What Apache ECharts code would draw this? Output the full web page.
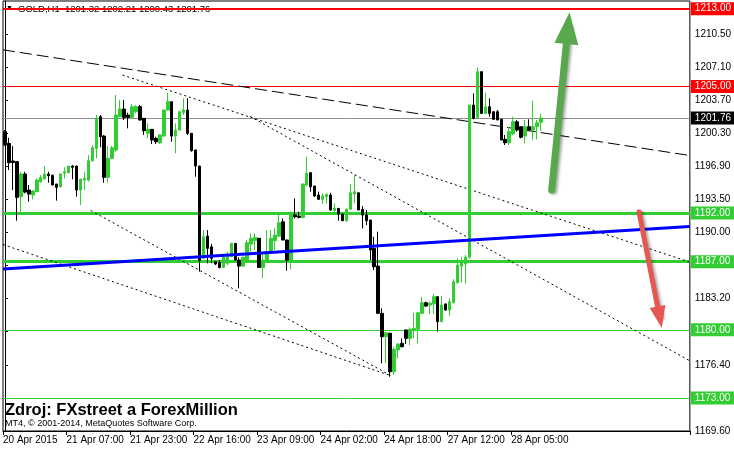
<!DOCTYPE html>
<html>
<head>
<meta charset="utf-8">
<script src="https://cdn.jsdelivr.net/npm/echarts@6/dist/echarts.min.js"></script>
<style>
html,body{margin:0;padding:0;background:#fff;}
#chart{width:734px;height:451px;}
</style>
</head>
<body>
<div id="chart"></div>
<script>
// ---- data (GOLD H1) ----
const opens = [1200.36,1199.16,1197.35,1197.28,1193.68,1196.01,1194.36,1193.85,1194.19,1195.22,1195.49,1196.01,1195.88,1194.98,1194.70,1196.08,1196.15,1196.83,1196.83,1194.36,1195.39,1195.39,1197.38,1198.65,1201.90,1199.91,1195.67,1197.62,1198.48,1201.90,1202.69,1202.07,1201.83,1202.41,1202.93,1201.73,1200.19,1200.60,1199.67,1199.22,1199.91,1202.59,1203.44,1199.91,1200.53,1202.31,1202.59,1200.19,1198.48,1196.83,1187.34,1189.63,1188.53,1186.99,1186.89,1186.41,1186.82,1187.51,1188.88,1187.17,1186.55,1187.17,1188.81,1189.16,1189.40,1186.41,1187.10,1188.03,1189.16,1189.63,1191.10,1189.23,1187.17,1191.79,1191.69,1191.55,1194.88,1196.15,1194.77,1193.85,1193.41,1193.68,1193.85,1192.24,1192.48,1191.90,1191.21,1192.38,1193.95,1194.08,1192.38,1191.79,1191.28,1188.37,1186.55,1181.69,1179.29,1179.64,1175.69,1177.92,1178.61,1179.98,1179.12,1179.98,1180.05,1181.69,1182.78,1182.55,1182.65,1183.40,1180.83,1182.65,1182.03,1182.78,1184.84,1186.55,1186.76,1187.45,1203.10,1201.83,1206.52,1202.24,1202.93,1202.41,1202.41,1201.63,1199.57,1199.22,1200.12,1201.38,1200.87,1199.91,1200.87,1200.53,1200.87,1201.32];
const closes = [1198.99,1197.17,1197.20,1193.61,1196.01,1194.15,1193.95,1194.26,1195.39,1195.67,1196.01,1195.84,1194.88,1194.64,1196.01,1196.25,1196.83,1196.70,1194.36,1195.46,1195.56,1197.38,1198.71,1201.73,1199.84,1195.67,1197.62,1198.71,1202.07,1202.69,1201.83,1201.83,1202.93,1202.93,1201.56,1200.46,1200.60,1199.50,1199.32,1200.02,1202.59,1203.44,1199.91,1200.53,1202.41,1202.59,1200.19,1198.41,1196.83,1187.10,1189.56,1188.37,1187.34,1186.76,1186.41,1187.51,1187.79,1188.88,1187.17,1186.55,1187.45,1188.95,1189.40,1189.51,1186.41,1187.17,1188.03,1189.40,1189.74,1191.00,1189.23,1187.17,1191.79,1191.62,1191.55,1194.98,1196.08,1194.70,1193.75,1193.41,1193.75,1193.92,1192.31,1192.48,1191.90,1191.21,1192.38,1194.08,1194.19,1192.31,1191.79,1191.21,1188.20,1186.48,1181.69,1179.29,1179.70,1175.69,1177.99,1178.54,1178.26,1179.12,1180.05,1180.15,1181.75,1182.78,1182.44,1182.72,1183.40,1180.83,1182.55,1182.03,1182.89,1184.94,1186.65,1186.89,1187.45,1203.10,1201.73,1206.52,1202.24,1202.93,1202.24,1201.63,1201.56,1199.50,1199.22,1200.36,1201.38,1200.53,1199.78,1200.87,1200.53,1200.87,1201.28,1201.76];
const lows = [1198.88,1196.42,1194.36,1191.21,1192.03,1194.02,1193.17,1193.41,1194.19,1195.11,1195.49,1195.11,1194.85,1193.27,1194.64,1195.56,1196.08,1195.46,1193.68,1192.82,1194.36,1195.22,1197.28,1197.62,1198.75,1195.11,1195.11,1197.52,1198.30,1201.83,1201.56,1200.70,1201.73,1202.24,1201.49,1200.02,1199.67,1199.09,1199.09,1199.09,1199.84,1202.55,1199.32,1198.14,1200.46,1202.07,1200.02,1198.30,1195.73,1185.97,1187.30,1186.83,1186.83,1186.65,1186.31,1186.40,1186.65,1187.50,1187.15,1184.26,1186.48,1187.10,1188.03,1188.20,1186.40,1185.29,1186.99,1187.86,1188.20,1189.56,1189.20,1186.07,1186.21,1191.45,1191.45,1191.45,1194.77,1194.19,1193.68,1193.34,1192.93,1193.00,1192.24,1192.13,1191.21,1191.20,1191.10,1192.31,1193.00,1192.30,1190.42,1190.77,1187.17,1186.14,1181.65,1176.55,1176.61,1175.18,1175.36,1177.07,1178.20,1178.54,1178.43,1179.12,1178.61,1181.62,1182.37,1181.62,1181.62,1179.81,1180.80,1181.96,1181.42,1182.72,1184.77,1184.84,1184.77,1187.34,1201.63,1201.73,1202.20,1202.17,1201.90,1201.56,1201.55,1199.50,1198.99,1198.99,1200.02,1200.36,1199.67,1199.16,1200.46,1199.50,1199.57,1200.43];
const highs = [1200.53,1199.74,1198.88,1197.35,1196.25,1196.25,1194.88,1194.36,1195.56,1195.91,1196.83,1196.25,1195.95,1195.00,1196.08,1196.70,1196.85,1196.93,1196.85,1195.56,1196.25,1197.96,1198.99,1202.07,1202.07,1200.02,1198.88,1198.88,1204.13,1203.62,1203.62,1202.31,1203.20,1203.10,1203.10,1201.75,1201.22,1200.62,1199.84,1200.12,1202.60,1204.33,1203.45,1201.22,1202.51,1203.79,1203.79,1200.20,1198.50,1196.85,1190.25,1190.25,1188.81,1187.00,1187.17,1187.58,1188.02,1188.95,1188.90,1187.45,1187.51,1189.23,1189.91,1189.91,1189.40,1187.92,1190.25,1190.25,1190.42,1192.03,1191.45,1189.25,1192.13,1193.51,1192.13,1195.05,1197.79,1196.15,1194.80,1194.19,1194.02,1194.02,1194.08,1192.99,1192.50,1191.97,1192.48,1194.98,1195.91,1194.10,1192.72,1192.31,1191.30,1189.56,1190.08,1182.21,1179.81,1179.70,1178.26,1178.61,1179.12,1180.05,1180.25,1181.75,1181.86,1183.40,1182.89,1182.89,1183.68,1183.47,1183.47,1182.72,1183.23,1185.19,1187.34,1187.51,1187.68,1203.10,1204.30,1206.97,1206.55,1204.36,1203.79,1202.45,1202.59,1201.65,1200.02,1200.87,1201.90,1201.56,1200.90,1201.56,1201.63,1203.54,1201.56,1202.21];

const totalSlots = 173;              // bars + empty shift area on the right
const xTickLabels = ["20 Apr 2015","21 Apr 07:00","21 Apr 23:00","22 Apr 16:00","23 Apr 09:00","24 Apr 02:00","24 Apr 18:00","27 Apr 12:00","28 Apr 05:00"];
const xTickBars = [0,16,32,48,64,80,96,112,128];
const yTickLabels = ["1169.60","1173.00","1176.40","1179.80","1183.20","1186.60","1190.00","1193.50","1196.90","1200.30","1203.70","1207.10","1210.50"];
const yMin = 1169.6, yStep = 3.4, yMax = 1213.79;

const resistanceLevels = [1213.00, 1205.00];
const supportLevels = [1192.00, 1187.00, 1180.00, 1173.00];
const lastPrice = 1201.76;
const header = "GOLD,H1  1201.32 1202.21 1200.43 1201.76";

// trend lines: [barIndex, price] endpoints
const blueTrend = [[-0.5, 1186.25], [172.5, 1190.61]];
const dashTrend = [[-0.5, 1208.77], [172.5, 1197.91]];
const dotTrendA = [[29.6, 1206.18], [172.5, 1186.96]];
const dotTrendB = [[61.7, 1201.93], [172.5, 1176.81]];
const dotTrendC = [[-0.5, 1188.76], [97.3, 1175.27]];
const dotTrendD = [[21.6, 1192.26], [97.3, 1175.27]];
const upArrow = [[137.7, 1194.36], [141.8, 1211.01]];
const downArrow = [[159.7, 1192.10], [164.9, 1181.29]];

// ---- build ----
const cats = [];
for (let i = 0; i < totalSlots; i++) {
  const k = xTickBars.indexOf(i);
  cats.push(k >= 0 ? xTickLabels[k] : ' ' + i);
}
const candles = opens.map((o, i) => [o, closes[i], lows[i], highs[i]]);
const isTick = (i) => xTickBars.indexOf(i) >= 0;
const FONT = 'Liberation Sans';

function levelLine(v, color, width, bg) {
  return {
    yAxis: v,
    lineStyle: { color: color, width: width, type: 'solid' },
    label: { show: true, position: 'end', distance: 1, formatter: v.toFixed(2),
      color: '#fff', backgroundColor: bg, padding: [2, 4, 1, 4], fontSize: 10, fontFamily: FONT }
  };
}

const levelData = [
  levelLine(resistanceLevels[0], '#ff0000', 2, '#ff0000'),
  levelLine(resistanceLevels[1], '#ff0000', 1, '#ff0000'),
  levelLine(lastPrice, '#8c8c8c', 1, '#000000'),
  levelLine(supportLevels[0], '#32cd32', 3, '#32cd32'),
  levelLine(supportLevels[1], '#32cd32', 3, '#32cd32'),
  levelLine(supportLevels[2], '#32cd32', 1, '#32cd32'),
  levelLine(supportLevels[3], '#32cd32', 1, '#32cd32')
];

function trend(name, pts, color, width, type) {
  return { name: name, type: 'line', xAxisIndex: 1, yAxisIndex: 0, data: pts,
    symbol: 'none', showSymbol: false, silent: true, z: 3,
    lineStyle: { color: color, width: width, type: type } };
}

function arrow(pts, color, width, head) {
  const ls = { color: color, width: width, type: 'solid', cap: 'round',
    shadowBlur: 3, shadowColor: 'rgba(0,0,0,0.35)', shadowOffsetX: 2, shadowOffsetY: 1 };
  return [
    { coord: pts[0], symbol: 'none', lineStyle: ls, itemStyle: { color: color } },
    { coord: pts[1], symbol: 'triangle', symbolSize: head, lineStyle: ls, itemStyle: { color: color } }
  ];
}

const chart = echarts.init(document.getElementById('chart'), null, { renderer: 'canvas' });
chart.setOption({
  animation: false,
  backgroundColor: '#fff',
  textStyle: { fontFamily: FONT },
  grid: { left: 2, top: 1, width: 690, height: 430, show: true, borderColor: '#000', borderWidth: 1, backgroundColor: '#fff' },
  xAxis: [
    { type: 'category', data: cats, boundaryGap: true,
      axisLine: { show: true, lineStyle: { color: '#000', width: 1 } },
      axisTick: { show: true, interval: (i) => isTick(i), length: 4, lineStyle: { color: '#000' } },
      axisLabel: { interval: (i) => isTick(i), align: 'left', margin: 4, fontSize: 10, color: '#000', fontFamily: FONT,
        padding: [0, 0, 0, -2],
        formatter: (v) => v.trim().match(/^\d+$/) ? '' : v },
      splitLine: { show: false } },
    { type: 'value', min: -0.5, max: totalSlots - 0.5, show: false }
  ],
  yAxis: {
    type: 'value', position: 'right', min: yMin, max: yMax, interval: yStep,
    axisLine: { show: true, lineStyle: { color: '#000' } },
    axisTick: { show: true, length: 3, lineStyle: { color: '#000' } },
    axisLabel: { show: true, showMaxLabel: false, margin: 5, fontSize: 10, color: '#000', fontFamily: FONT,
      formatter: (v) => { const k = Math.round((v - yMin) / yStep); return yTickLabels[k] || ''; } },
    splitLine: { show: false }
  },
  series: [
    trend('dash', dashTrend, '#000', 1, [12, 5]),
    trend('dotA', dotTrendA, '#000', 1, [2, 3]),
    trend('dotB', dotTrendB, '#000', 1, [2, 3]),
    trend('dotC', dotTrendC, '#000', 1, [2, 3]),
    trend('dotD', dotTrendD, '#000', 1, [2, 3]),
    {
      name: 'GOLD', type: 'candlestick', data: candles, barWidth: 3, z: 4,
      itemStyle: { color: '#32cd32', color0: '#000', borderColor: '#32cd32', borderColor0: '#000', borderWidth: 1 },
      markLine: { silent: true, symbol: 'none', animation: false, z: 2, data: levelData }
    },
    Object.assign(trend('blue', blueTrend, '#0000ff', 3, 'solid'), {
      z: 5,
      markLine: { silent: true, animation: false, z: 6, label: { show: false },
        data: [ arrow(upArrow, '#5aa84e', 7, [24, 32]), arrow(downArrow, '#e5574f', 5, [16, 22]) ] }
    })
  ],
  graphic: [
    { type: 'text', left: 6, top: 5, z: 0, style: { text: '\u25BC', font: '7px "' + FONT + '"', fill: '#000' } },
    { type: 'text', left: 18, top: 4, z: 0, style: { text: header, font: '9.5px "' + FONT + '"', fill: '#000' } },
    { type: 'text', left: 5, top: 402, z: 10, style: { text: 'Zdroj: FXstreet a ForexMillion', font: 'bold 16.5px "' + FONT + '"', fill: '#000' } },
    { type: 'text', left: 5, top: 419, z: 10, style: { text: 'MT4, \u00A9 2001-2014, MetaQuotes Software Corp.', font: '9px "' + FONT + '"', fill: '#000' } }
  ]
});
</script>
</body>
</html>
